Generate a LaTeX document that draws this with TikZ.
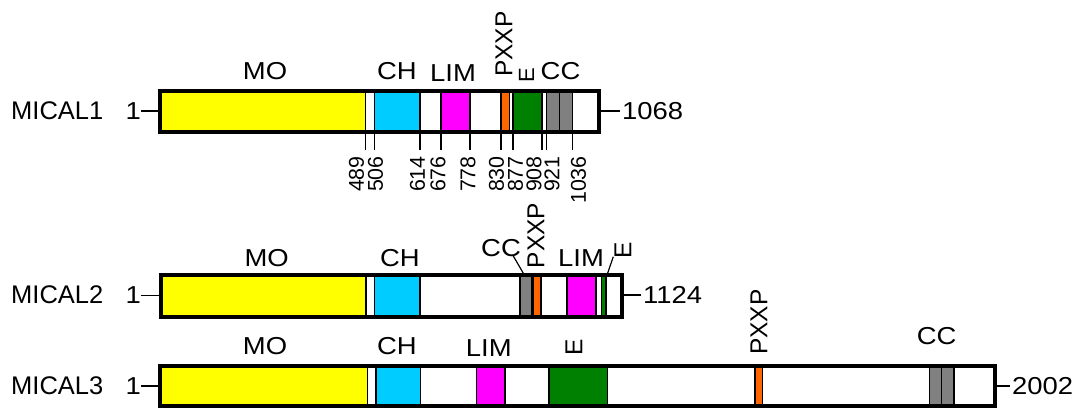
\documentclass[tikz,border=0pt]{standalone}
\usepackage{fontspec}
\setmainfont{Liberation Sans}
\newfontfamily\widesans{Liberation Sans}[FakeStretch=1.12]
\definecolor{moY}{RGB}{255,255,0}
\definecolor{chC}{RGB}{0,204,255}
\definecolor{limM}{RGB}{255,0,255}
\definecolor{pxO}{RGB}{255,102,0}
\definecolor{eG}{RGB}{0,128,0}
\definecolor{ccG}{RGB}{128,128,128}
% domain box between x1 and x2, spanning y1..y2
\newcommand\dom[5]{\draw[domline,fill=#1] (#2,#4) rectangle (#3,#5);}
\begin{document}
\begin{tikzpicture}[x=1pt,y=-1pt,
  domline/.style={line width=1.5pt},
  bar/.style={draw, line width=4pt, rectangle, inner sep=0pt, outer sep=0pt},
  lab/.style={font=\widesans\fontsize{24.5}{28}\selectfont, inner sep=0pt, anchor=base},
  rowlab/.style={font=\fontsize{25.5}{29}\selectfont, inner sep=0pt},
  rlab/.style={font=\fontsize{24.5}{28}\selectfont, inner sep=0pt, rotate=90, anchor=west},
  num/.style={font=\fontsize{21.4}{25}\selectfont, inner sep=0pt, rotate=90, anchor=east},
  tick/.style={line width=1.5pt},
  conn/.style={line width=1.5pt},
  lead/.style={line width=1.2pt}]
\useasboundingbox (0,0) rectangle (1079,409);

% ---------------- MICAL1 ----------------
\dom{moY}{160.3}{365.5}{91.3}{132}
\dom{chC}{374.5}{420}{91.3}{132}
\dom{limM}{441}{470}{91.3}{132}
\dom{pxO}{501}{509.5}{91.3}{132}
\dom{eG}{513}{542}{91.3}{132}
\dom{ccG}{546.5}{559.5}{91.3}{132}
\dom{ccG}{559.5}{572.5}{91.3}{132}
\node[bar, minimum width=438.4pt, minimum height=40.7pt] (b1) at (379.5,111.65) {};

\node[rowlab, anchor=base west] (r1) at (11,119.3) {MICAL1};
\node[lab, anchor=base east] (s1) at (141,119.3) {1};
\draw[conn] (s1.east) -- (s1.east -| b1.west);
\node[lab, anchor=base west] (e1) at (622,119.3) {1068};
\draw[conn, shorten >=2.5pt] (e1.west -| b1.east) -- (e1.west);

\node[lab] (mo1) at (265,79.3) {MO};
\node[lab] (ch1) at (397,79.3) {CH};
\node[lab] (lim1) at (453,81.7) {LIM};
\node[lab] (cc1) at (560.5,79.3) {CC};
\node[rlab] (px1) at (504,77) {PXXP};
\node[rlab, font=\fontsize{22}{26}\selectfont] (el1) at (526.5,83) {E};

\foreach \tx/\lx/\t in {365.5/356.5/489, 374.5/375.5/506, 420/417.5/614,
    441/438/676, 470/468/778, 501/496.5/830, 513/515.5/877,
    542/534/908, 546.5/552/921, 572.5/578.5/1036}{
  \coordinate (ta\t) at (\tx,132);
  \coordinate (tb\t) at (\tx,150);
  \draw[tick] (ta\t) -- (tb\t);
  \node[num] (n\t) at (\lx,156) {\t};
}

% ---------------- MICAL2 ----------------
\dom{moY}{161}{366}{275.3}{317}
\dom{chC}{374.5}{420}{275.3}{317}
\dom{ccG}{520}{532}{275.3}{317}
\dom{pxO}{533.5}{541}{275.3}{317}
\dom{limM}{567}{596}{275.3}{317}
\dom{eG}{601.5}{606}{275.3}{317}
\node[bar, minimum width=461pt, minimum height=41.7pt] (b2) at (391.5,296.15) {};

\node[rowlab, anchor=base west] (r2) at (11,303.8) {MICAL2};
\node[lab, anchor=base east] (s2) at (141,303.8) {1};
\draw[conn] (s2.east) -- (s2.east -| b2.west);
\node[lab, anchor=base west] (e2) at (643,303.8) {1124};
\draw[conn, shorten >=2.5pt] (e2.west -| b2.east) -- (e2.west);

\node[lab] (mo2) at (266.7,266.7) {MO};
\node[lab] (ch2) at (400,266.7) {CH};
\node[lab] (lim2) at (581,266.7) {LIM};
\node[lab] (cc2) at (501,256.7) {CC};
\node[rlab] (px2) at (536,268.5) {PXXP};
\node[rlab] (el2) at (623,259) {E};
\coordinate (cc2a) at (524.5,275.3);
\coordinate (cc2b) at (513.3,256);
\draw[lead] (cc2a) -- (cc2b);
\coordinate (el2a) at (607.7,273);
\coordinate (el2b) at (613.3,256.7);
\draw[lead] (el2a) -- (el2b);

% ---------------- MICAL3 ----------------
\dom{moY}{160.3}{367.5}{366.3}{406.3}
\dom{chC}{376}{420.5}{366.3}{406.3}
\dom{limM}{476.7}{505}{366.3}{406.3}
\dom{eG}{549}{607.3}{366.3}{406.3}
\dom{pxO}{755}{762.7}{366.3}{406.3}
\dom{ccG}{929.3}{941.7}{366.3}{406.3}
\dom{ccG}{941.7}{954}{366.3}{406.3}
\node[bar, minimum width=834.4pt, minimum height=40pt] (b3) at (577.5,386.3) {};

\node[rowlab, anchor=base west] (r3) at (11,394.5) {MICAL3};
\node[lab, anchor=base east] (s3) at (141,394.5) {1};
\draw[conn] (s3.east) -- (s3.east -| b3.west);
\node[lab, anchor=base west] (e3) at (1012,394.5) {2002};
\draw[conn, shorten >=2.5pt] (e3.west -| b3.east) -- (e3.west);

\node[lab] (mo3) at (265,354) {MO};
\node[lab] (ch3) at (397,354) {CH};
\node[lab] (lim3) at (488.8,356) {LIM};
\node[lab] (cc3) at (936.7,344) {CC};
\node[rlab] (el3) at (574,356) {E};
\node[rlab] (px3) at (759,355) {PXXP};
\end{tikzpicture}
\end{document}
